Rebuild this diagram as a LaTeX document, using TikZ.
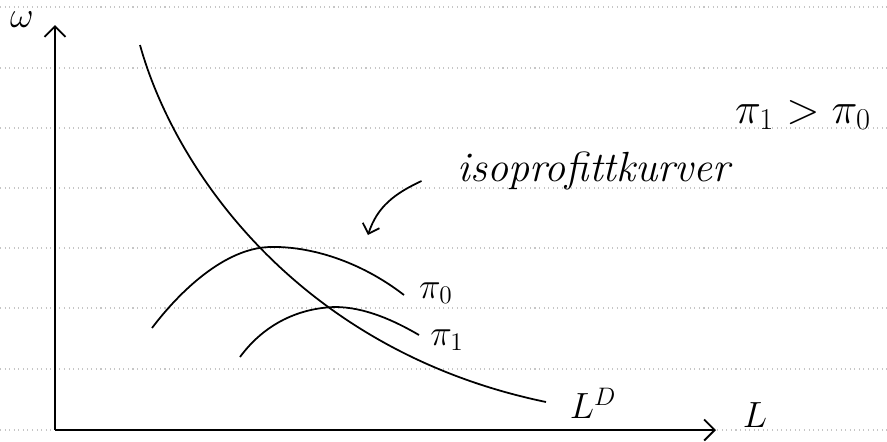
\documentclass[tikz,border=0pt]{standalone}
\usetikzlibrary{arrows.meta,calc}
\tikzset{
  curve/.style={line width=1pt},
  lab/.style={font=\fontsize{20}{24}\selectfont},
  ruled/.style={gray!45,dotted,line width=0.6pt},
  tip/.style={-{Straight Barb[length=6pt,width=12pt]}}
}
\begin{document}
\begin{tikzpicture}[x=0.02cm,y=0.02cm]
  \useasboundingbox (0,0) rectangle (887,441);

  % Ruled paper lines
  \foreach \y in {434,373,313,253,193,133,72,11}
    \draw[ruled] (0,\y) -- (887,\y);

  % Axes
  \coordinate (O) at (55,11);
  \coordinate (ytop) at (55,416);
  \coordinate (xend) at (716,11);
  \draw[tip,line width=1.1pt] (O) -- (ytop);
  \draw[tip,line width=1.1pt] (O) -- (xend);
  \node[lab,inner sep=1pt] (wlab) at (22,421) {$\omega$};
  \node[lab] (Llab) at (755,26) {$L$};

  % Labour demand
  \draw[curve] (140,396) .. controls (175,270) and (300,90) .. (546,39);
  \node[lab] (LD) at (593,38) {$L^D$};

  % Isoprofit curves
  \draw[curve] (152,113) .. controls (180,150) and (225,193) .. (270,194)
    .. controls (310,195) and (360,180) .. (404,146);
  \node[lab] (p0) at (436,148) {$\pi_0$};
  \draw[curve] (240,84) .. controls (265,118) and (300,133) .. (335,134)
    .. controls (365,134) and (395,120) .. (419,106);
  \node[lab] (p1) at (447,101) {$\pi_1$};

  % Annotations
  \node[font=\fontsize{24}{28}\selectfont] (order) at (803,326) {$\pi_1 > \pi_0$};
  \node[font=\fontsize{24}{28}\selectfont\itshape] (iso) at (594,270) {isoprofittkurver};
  \coordinate (isotip) at (368,206);
  \draw[-{Straight Barb[length=5pt,width=10pt]},line width=1pt]
    ($(iso.west)+(-30,-10)$) to[out=205,in=72] (isotip);
\end{tikzpicture}
\end{document}
